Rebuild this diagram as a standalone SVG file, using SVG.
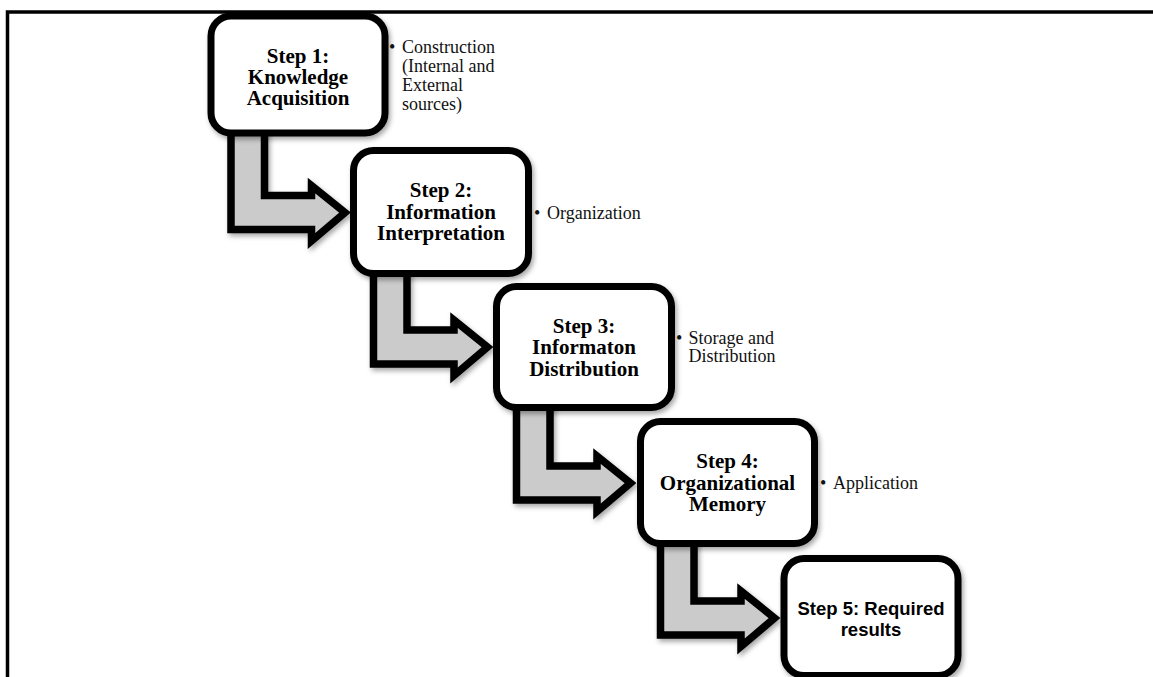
<svg xmlns="http://www.w3.org/2000/svg" width="1153" height="677" viewBox="0 0 1153 677">
  <defs>
    <filter id="shadow" x="-20%" y="-20%" width="140%" height="140%">
      <feDropShadow dx="2" dy="3" stdDeviation="2.5" flood-color="#000" flood-opacity="0.35"/>
    </filter>
    <style>
      .box { fill: #ffffff; stroke: #000000; stroke-width: 7; }
      .arrow { fill: #cbcbcb; stroke: #000000; stroke-width: 7.5; stroke-linejoin: miter; stroke-miterlimit: 10; }
      .title { font-family: "Liberation Serif", "Times New Roman", serif; font-weight: bold; font-size: 21px; fill: #000; text-anchor: middle; }
      .title5 { font-family: "Liberation Sans", Arial, sans-serif; font-weight: bold; font-size: 18.5px; fill: #000; text-anchor: middle; }
      .side { font-family: "Liberation Serif", "Times New Roman", serif; font-size: 18px; fill: #111; }
      .frame { fill: none; stroke: #000; stroke-width: 3.5; }
    </style>
  </defs>
  <rect x="0" y="0" width="1153" height="677" fill="#ffffff"/>
  <path class="frame" d="M7.5,690 V12 H1160"/>

  <g id="connectors" filter="url(#shadow)">
    <polygon class="arrow" points="231,110 264.5,110 264.5,195.5 311.5,195.5 311.5,185.5 345,212.5 311.5,241 311.5,229.5 231,229.5"/>
    <polygon class="arrow" points="373.5,245 407,245 407,330 454,330 454,320 487.5,347 454,375.5 454,364 373.5,364"/>
    <polygon class="arrow" points="516.5,380 550,380 550,466 597,466 597,456 630.5,483 597,511.5 597,500 516.5,500"/>
    <polygon class="arrow" points="660.5,515 694,515 694,601 741,601 741,591 774.5,618 741,646.5 741,635 660.5,635"/>
  </g>

  <g id="step1">
    <rect class="box" x="211" y="16" width="174" height="117" rx="20" filter="url(#shadow)"/>
    <text class="title" x="298" y="63"><tspan x="298" y="63">Step 1:</tspan><tspan x="298" y="84">Knowledge</tspan><tspan x="298" y="105">Acquisition</tspan></text>
  </g>
  <g id="note1">
    <text class="side" x="389" y="53">•</text>
    <text class="side" x="402" y="53"><tspan x="402" y="53">Construction</tspan><tspan x="402" y="72">(Internal and</tspan><tspan x="402" y="91">External</tspan><tspan x="402" y="110">sources)</tspan></text>
  </g>

  <g id="step2">
    <rect class="box" x="353.5" y="150.5" width="175" height="123" rx="20" filter="url(#shadow)"/>
    <text class="title" x="441" y="197"><tspan x="441" y="197">Step 2:</tspan><tspan x="441" y="218.5">Information</tspan><tspan x="441" y="240">Interpretation</tspan></text>
  </g>
  <g id="note2">
    <text class="side" x="534" y="218.5">•</text>
    <text class="side" x="547" y="218.5">Organization</text>
  </g>

  <g id="step3">
    <rect class="box" x="496.5" y="286.5" width="175" height="121" rx="20" filter="url(#shadow)"/>
    <text class="title" x="584" y="332.5"><tspan x="584" y="332.5">Step 3:</tspan><tspan x="584" y="354">Informaton</tspan><tspan x="584" y="375.5">Distribution</tspan></text>
  </g>
  <g id="note3">
    <text class="side" x="676" y="343.5">•</text>
    <text class="side" x="688.5" y="343.5"><tspan x="688.5" y="343.5">Storage and</tspan><tspan x="688.5" y="362">Distribution</tspan></text>
  </g>

  <g id="step4">
    <rect class="box" x="640.5" y="421.5" width="174" height="122" rx="20" filter="url(#shadow)"/>
    <text class="title" x="727.5" y="468"><tspan x="727.5" y="468">Step 4:</tspan><tspan x="727.5" y="489.5">Organizational</tspan><tspan x="727.5" y="510.5">Memory</tspan></text>
  </g>
  <g id="note4">
    <text class="side" x="820" y="488.5">•</text>
    <text class="side" x="833" y="488.5">Application</text>
  </g>

  <g id="step5">
    <rect class="box" x="784" y="558.5" width="174" height="117" rx="20" filter="url(#shadow)"/>
    <text class="title5" x="871" y="615"><tspan x="871" y="615">Step 5: Required</tspan><tspan x="871" y="635.5">results</tspan></text>
  </g>
</svg>
